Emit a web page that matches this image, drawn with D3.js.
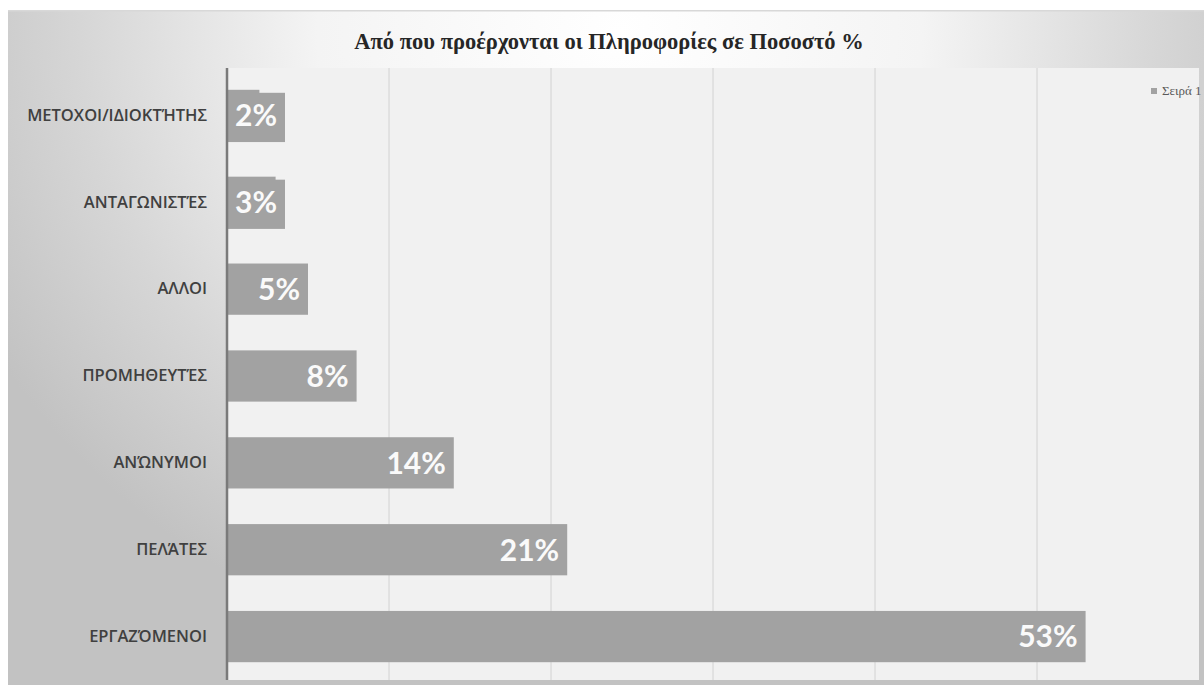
<!DOCTYPE html>
<html><head><meta charset="utf-8">
<script src="https://cdn.jsdelivr.net/npm/d3@7"></script>
<style>body{margin:0;background:#fff}svg{display:block}</style>
</head><body>
<svg id="c" width="1204" height="685"></svg>
<script>
const categories = ["ΜΕΤΟΧΟΙ/ΙΔΙΟΚΤΉΤΗΣ","ΑΝΤΑΓΩΝΙΣΤΈΣ","ΑΛΛΟΙ","ΠΡΟΜΗΘΕΥΤΈΣ","ΑΝΏΝΥΜΟΙ","ΠΕΛΆΤΕΣ","ΕΡΓΑΖΌΜΕΝΟΙ"];
const values = [2,3,5,8,14,21,53];
const xTicks = [0,10,20,30,40,50,60];
const title = "Από που προέρχονται οι Πληροφορίες σε Ποσοστό %";
const seriesName = "Σειρά 1";

const svg = d3.select("#c");
const chart = {x:8, y:10, w:1196, h:675};
const plot = {l:227, r:1199, t:68, b:680};

const defs = svg.append("defs");
const rg = defs.append("radialGradient").attr("id","bg")
  .attr("gradientUnits","userSpaceOnUse").attr("cx",620).attr("cy",30).attr("r",720)
  .attr("gradientTransform","translate(620,30) scale(1,0.9) translate(-620,-30)");
rg.append("stop").attr("offset",0).attr("stop-color","#ffffff");
rg.append("stop").attr("offset",0.42).attr("stop-color","#f4f4f4");
rg.append("stop").attr("offset",0.75).attr("stop-color","#d6d6d6");
rg.append("stop").attr("offset",1).attr("stop-color","#c2c2c2");

svg.append("rect").attr("x",chart.x).attr("y",chart.y).attr("width",chart.w).attr("height",chart.h).attr("fill","url(#bg)");
svg.append("rect").attr("x",chart.x).attr("y",chart.y).attr("width",chart.w).attr("height",1.5).attr("fill","#d8d8d8");

svg.append("rect").attr("x",plot.l).attr("y",plot.t).attr("width",plot.r-plot.l).attr("height",plot.b-plot.t).attr("fill","#f1f1f1");

const x = d3.scaleLinear().domain([0,60]).range([plot.l, plot.r]);
const y = d3.scaleBand().domain(categories).range([plot.t+4, plot.b]).paddingInner(0.41).paddingOuter(0.205);

svg.append("g").selectAll("line").data(xTicks.slice(1,-1)).join("line")
  .attr("x1",d=>x(d)).attr("x2",d=>x(d)).attr("y1",plot.t).attr("y2",plot.b)
  .attr("stroke","#d2d2d2").attr("stroke-width",1);

svg.append("g").selectAll("rect").data(values).join("rect")
  .attr("x",x(0)).attr("y",(d,i)=>y(categories[i]))
  .attr("width",d=>x(d)-x(0)).attr("height",y.bandwidth())
  .attr("fill","#a2a2a2");

const lg = svg.append("g");
values.forEach((v,i)=>{
  const cy = y(categories[i]) + y.bandwidth()/2;
  const t = lg.append("text").attr("y",cy).attr("dy","0.36em")
    .attr("font-family","Lato, 'Open Sans', sans-serif").attr("font-weight",700)
    .attr("font-size",30).attr("fill","#fafafa").text(v+"%");
  const tw = t.node().getComputedTextLength();
  const barEnd = x(v);
  const pad = 8;
  if (tw + 2*pad > barEnd - x(0)) {
    lg.insert("rect", () => t.node())
      .attr("x",x(0)).attr("y",y(categories[i])+3)
      .attr("width",tw+2*pad).attr("height",y.bandwidth()-2)
      .attr("fill","#a2a2a2");
    t.attr("x",x(0)+pad);
  } else {
    t.attr("x",barEnd-pad).attr("text-anchor","end");
  }
});

const yAxis = d3.axisLeft(y).tickSize(0).tickPadding(20);
const ga = svg.append("g").attr("transform",`translate(${plot.l},0)`).call(yAxis);
ga.select(".domain").attr("stroke","#7a7a7a").attr("stroke-width",2.5).attr("d",`M0,${plot.t}V${plot.b}`);
ga.selectAll("text").attr("font-family","'Open Sans', sans-serif").attr("font-weight",600)
  .attr("font-size",16.5).attr("fill","#404040");

svg.append("text").attr("x",609).attr("y",49).attr("text-anchor","middle")
  .attr("font-family","'Liberation Serif', 'DejaVu Serif', serif").attr("font-weight",700)
  .attr("font-size",22.5).attr("fill","#262626").text(title);

const leg = svg.append("g").attr("transform","translate(1151,95)");
leg.append("rect").attr("x",0).attr("y",-7).attr("width",6).attr("height",6).attr("fill","#a2a2a2");
leg.append("text").attr("x",11).attr("y",0).attr("font-family","'Liberation Serif', serif")
  .attr("font-size",13).attr("fill","#595959").text(seriesName);
</script>
</body></html>
